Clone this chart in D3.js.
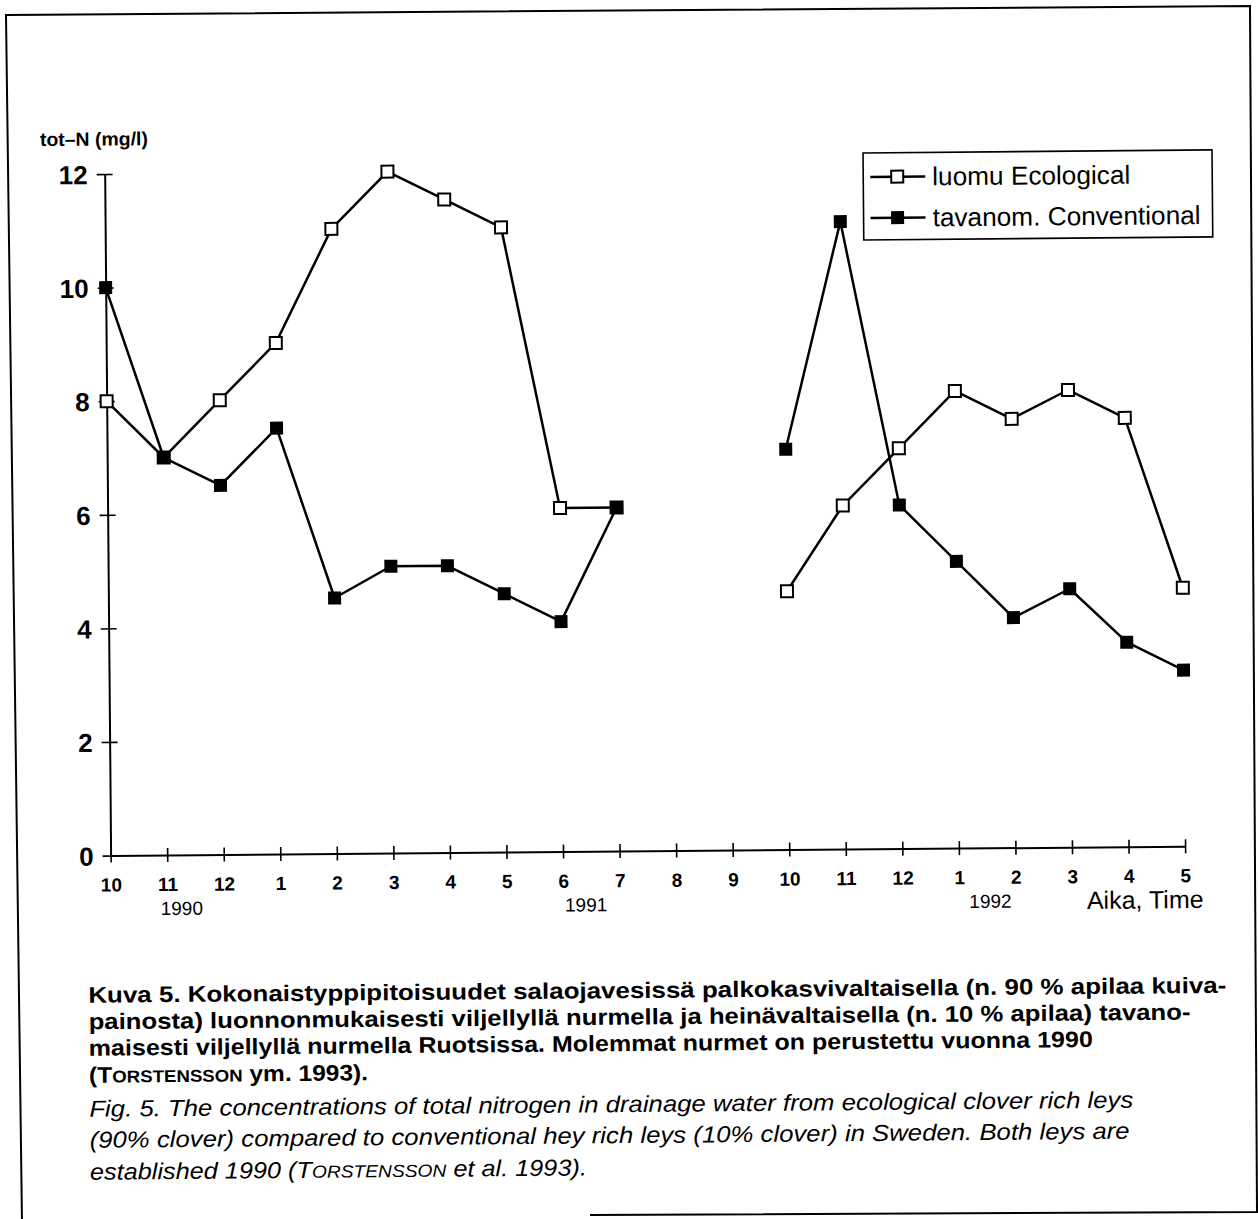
<!DOCTYPE html>
<html>
<head>
<meta charset="utf-8">
<script src="https://cdn.jsdelivr.net/npm/d3@7"></script>
<style>
  html, body { margin: 0; padding: 0; background: #fff; }
  svg { display: block; }
  text { fill: #000; }
</style>
</head>
<body>
<script>
// month labels along the time axis (Oct 1990 .. May 1992)
const months = ["10", "11", "12", "1", "2", "3", "4", "5", "6", "7", "8", "9",
                "10", "11", "12", "1", "2", "3", "4", "5"];
// tot-N (mg/l), null = no sample
const ecological = [8, 7, 8, 9, 11, 12, 11.5, 11, 6.05, 6.05, null, null,
                    4.55, 6.05, 7.05, 8.05, 7.55, 8.05, 7.55, 4.55];
const conventional = [10, 7, 6.5, 7.5, 4.5, 5.05, 5.05, 4.55, 4.05, 6.05, null, null,
                      7.05, 11.05, 6.05, 5.05, 4.05, 4.55, 3.6, 3.1];
const yTicks = [0, 2, 4, 6, 8, 10, 12];
const years = ["1990", "1991", "1992"];
const yearAt = [1.25, 8.4, 15.55];
const seriesNames = ["luomu Ecological", "tavanom. Conventional"];

const W = 1258, H = 1219;
const sans = "'Liberation Sans', Arial, Helvetica, sans-serif";
const narrow = "'Liberation Sans Narrow', 'Liberation Sans', Arial, sans-serif";

const svg = d3.select("body").append("svg")
    .attr("width", W)
    .attr("height", H);

// scanned page frame (bottom edge only partly on the page)
svg.append("path")
    .attr("d", "M22,1222 L6,15 L1250,6 L1257,1212 L590,1215")
    .attr("fill", "none")
    .attr("stroke", "#000")
    .attr("stroke-width", 2);

// the scan is tilted slightly
const g = svg.append("g").attr("transform", "rotate(-0.5,629,610)");

const x = d3.scaleLinear().domain([0, 19]).range([108.5, 1183]);
const y = d3.scaleLinear().domain([0, 12]).range([851, 169.5]);

// x axis
const xAxis = g.append("g")
    .attr("transform", "translate(0," + y(0) + ")")
    .call(d3.axisBottom(x)
        .tickValues(d3.range(months.length))
        .tickFormat(i => months[i])
        .tickSizeOuter(0)
        .tickPadding(0));
xAxis.select(".domain").attr("stroke", "#000").attr("stroke-width", 2);
xAxis.selectAll(".tick line").attr("y1", -7).attr("y2", 7).attr("stroke-width", 1.6);
xAxis.selectAll(".tick text")
    .attr("y", 36).attr("dy", null)
    .attr("font-family", sans).attr("font-weight", "bold").attr("font-size", 19);

// y axis
const yAxis = g.append("g")
    .attr("transform", "translate(" + x(0) + ",0)")
    .call(d3.axisLeft(y)
        .tickValues(yTicks)
        .tickSizeOuter(0)
        .tickPadding(0));
yAxis.select(".domain").attr("stroke", "#000").attr("stroke-width", 2);
yAxis.selectAll(".tick line").attr("x1", -8).attr("x2", 8).attr("stroke-width", 1.6);
yAxis.selectAll(".tick text")
    .attr("x", -17).attr("dy", "0.36em")
    .attr("font-family", sans).attr("font-weight", "bold").attr("font-size", 26);

g.append("text")
    .attr("x", 44).attr("y", 141)
    .attr("font-family", sans).attr("font-weight", "bold").attr("font-size", 19)
    .attr("textLength", 108).attr("lengthAdjust", "spacingAndGlyphs")
    .text("tot\u2013N (mg/l)");

g.selectAll(".year")
    .data(years)
    .enter()
    .append("text")
    .attr("class", "year")
    .attr("x", (d, i) => x(yearAt[i]))
    .attr("y", y(0) + 60)
    .attr("text-anchor", "middle")
    .attr("font-family", narrow).attr("font-size", 19)
    .text(d => d);

g.append("text")
    .attr("x", 1201).attr("y", 913)
    .attr("text-anchor", "end")
    .attr("font-family", sans).attr("font-size", 25)
    .text("Aika, Time");

// lines
const line = d3.line()
    .defined(d => d != null)
    .x((d, i) => x(i))
    .y(d => y(d));

[ecological, conventional].forEach(s => {
    g.append("path")
        .datum(s)
        .attr("d", line)
        .attr("fill", "none")
        .attr("stroke", "#000")
        .attr("stroke-width", 2.5)
        .attr("stroke-linejoin", "round");
});

const ms = 13;
const pts = s => s.map((v, i) => ({ i: i, v: v })).filter(d => d.v != null);

g.append("g")
    .selectAll("rect")
    .data(pts(ecological))
    .enter()
    .append("rect")
    .attr("x", d => x(d.i) - ms / 2 + 0.5)
    .attr("y", d => y(d.v) - ms / 2 + 0.5)
    .attr("width", ms - 1).attr("height", ms - 1)
    .attr("fill", "#fff").attr("stroke", "#000").attr("stroke-width", 2);

g.append("g")
    .selectAll("rect")
    .data(pts(conventional))
    .enter()
    .append("rect")
    .attr("x", d => x(d.i) - ms / 2)
    .attr("y", d => y(d.v) - ms / 2)
    .attr("width", ms).attr("height", ms)
    .attr("fill", "#000");

// legend
const lg = g.append("g");
lg.append("rect")
    .attr("x", 867).attr("y", 155)
    .attr("width", 349).attr("height", 87)
    .attr("fill", "#fff").attr("stroke", "#000").attr("stroke-width", 1.6);

seriesNames.forEach((name, i) => {
    const cy = 179 + i * 41;
    lg.append("line")
        .attr("x1", 874).attr("x2", 929).attr("y1", cy).attr("y2", cy)
        .attr("stroke", "#000").attr("stroke-width", 2.5);
    lg.append("rect")
        .attr("x", 901 - ms / 2 + (i ? 0 : 0.5))
        .attr("y", cy - ms / 2 + (i ? 0 : 0.5))
        .attr("width", i ? ms : ms - 1).attr("height", i ? ms : ms - 1)
        .attr("fill", i ? "#000" : "#fff")
        .attr("stroke", "#000").attr("stroke-width", i ? 0 : 2);
    lg.append("text")
        .attr("x", 936).attr("y", cy + 9)
        .attr("font-family", sans).attr("font-size", 26)
        .attr("textLength", i ? 268 : 198).attr("lengthAdjust", "spacingAndGlyphs")
        .text(name);
});

// caption
const boldLines = [
    ["Kuva 5. Kokonaistyppipitoisuudet salaojavesissä palkokasvivaltaisella (n. 90 % apilaa kuiva-", 1138],
    ["painosta) luonnonmukaisesti viljellyllä nurmella ja heinävaltaisella (n. 10 % apilaa) tavano-", 1102],
    ["maisesti viljellyllä nurmella Ruotsissa. Molemmat nurmet on perustettu vuonna 1990", 1004]
];
boldLines.forEach((d, i) => {
    g.append("text")
        .attr("x", 85).attr("y", 998 + i * 26.5)
        .attr("font-family", narrow).attr("font-weight", "bold").attr("font-size", 22.5)
        .attr("textLength", d[1]).attr("lengthAdjust", "spacingAndGlyphs")
        .text(d[0]);
});

function smallCapsLine(sel, before, after, len) {
    const t = sel.attr("textLength", len).attr("lengthAdjust", "spacingAndGlyphs");
    t.append("tspan").text(before + "T");
    t.append("tspan").attr("font-size", "0.76em").text("ORSTENSSON");
    t.append("tspan").text(after);
}

smallCapsLine(g.append("text")
    .attr("x", 85).attr("y", 1078)
    .attr("font-family", narrow).attr("font-weight", "bold").attr("font-size", 22.5),
    "(", " ym. 1993).", 279);

const italicLines = [
    ["Fig. 5. The concentrations of total nitrogen in drainage water from ecological clover rich leys", 1044],
    ["(90% clover) compared to conventional hey rich leys (10% clover) in Sweden. Both leys are", 1040]
];
italicLines.forEach((d, i) => {
    g.append("text")
        .attr("x", 85).attr("y", 1112 + i * 31)
        .attr("font-family", narrow).attr("font-style", "italic").attr("font-size", 23)
        .attr("textLength", d[1]).attr("lengthAdjust", "spacingAndGlyphs")
        .text(d[0]);
});
smallCapsLine(g.append("text")
    .attr("x", 85).attr("y", 1175)
    .attr("font-family", narrow).attr("font-style", "italic").attr("font-size", 23),
    "established 1990 (", " et al. 1993).", 497);
</script>
</body>
</html>
